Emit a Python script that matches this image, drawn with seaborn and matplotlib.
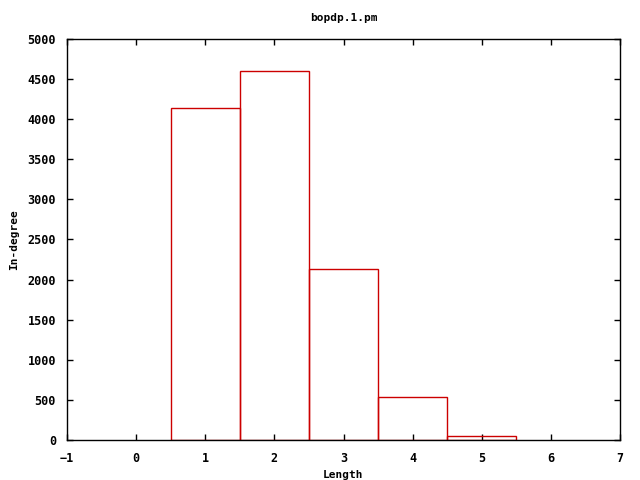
import pandas as pd
import numpy as np
import seaborn as sns
import matplotlib
matplotlib.use('Agg')
import matplotlib.pyplot as plt

lengths = [1, 2, 3, 4, 5]
in_degree = [4135, 4605, 2130, 535, 45]

dt = pd.DataFrame({'Length': lengths, 'In-degree': in_degree})

sns.set_style('ticks')
plt.rcParams['font.family'] = ['DejaVu Sans Mono', 'DejaVu Sans']
plt.rcParams['font.weight'] = 'bold'
plt.rcParams['font.size'] = 8.5
plt.rcParams['text.color'] = 'black'
plt.rcParams['xtick.color'] = 'black'
plt.rcParams['ytick.color'] = 'black'

fig = plt.figure(figsize=(6.4, 4.8), dpi=100)
ax = fig.add_axes([67 / 640, 40 / 480, 553 / 640, 401 / 480])

sns.histplot(
    data=dt,
    x='Length',
    weights='In-degree',
    discrete=True,
    fill=False,
    color='#cc0000',
    linewidth=1,
    ax=ax)

ax.set_xlim(-1, 7)
ax.set_ylim(0, 5000)
ax.set_xticks(np.arange(-1, 8, 1))
ax.set_yticks(np.arange(0, 5001, 500))
ax.tick_params(direction='in', top=True, right=True, length=4, width=1)
ax.tick_params(axis='x', pad=9)
ax.tick_params(axis='y', pad=8)
for s in ax.spines.values():
    s.set_visible(True)
    s.set_linewidth(1)
    s.set_color('black')

ax.set_xlabel('Length', fontweight='bold', fontsize=8, color='black', labelpad=3)
ax.set_ylabel('In-degree', fontweight='bold', fontsize=8, color='black', labelpad=6)
ax.set_title('bopdp.1.pm', fontweight='bold', fontsize=8, color='black', pad=13)

fig.savefig('out.png', dpi=100)
